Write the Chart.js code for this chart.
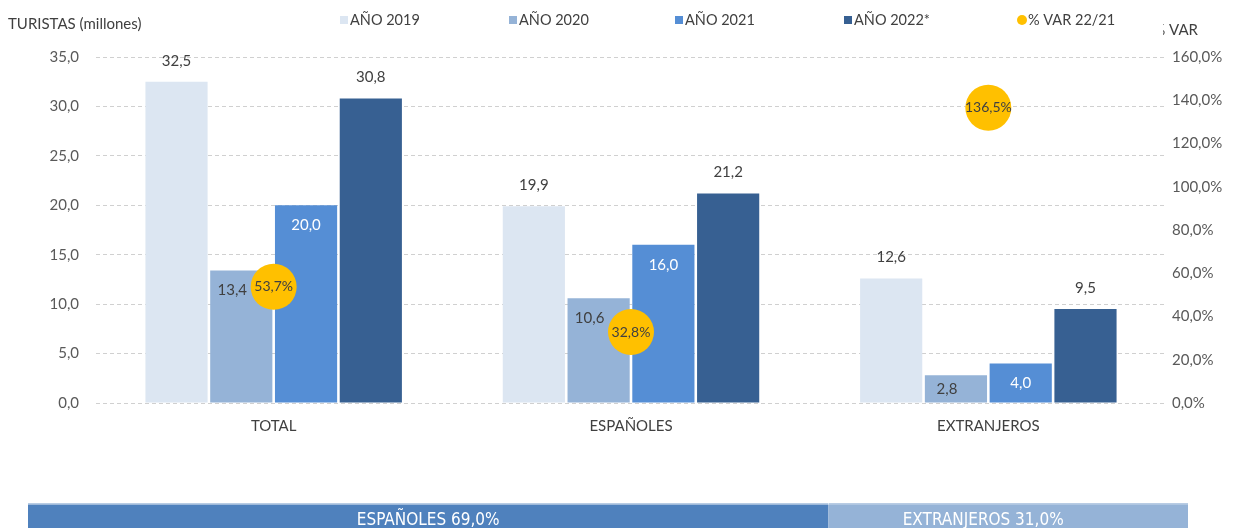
<!DOCTYPE html>
<html>
<head>
<meta charset="utf-8">
<script src="https://cdn.jsdelivr.net/npm/chart.js@4.4.1/dist/chart.umd.min.js"></script>
<style>
  html, body { margin: 0; padding: 0; background: #fff; overflow: hidden; }
  #main { position: absolute; left: 0; top: 0; }
  #shareWrap { position: absolute; left: 0; top: 503px; width: 1234px; height: 34px; }
</style>
</head>
<body>
<canvas id="main" width="1234" height="450"></canvas>
<div id="shareWrap"><canvas id="share" width="1234" height="34"></canvas></div>
<script>
// data
const categories = ['TOTAL', 'ESPAÑOLES', 'EXTRANJEROS'];
const yearLabels = ['AÑO 2019', 'AÑO 2020', 'AÑO 2021', 'AÑO 2022*'];
const tur2019 = [32.5, 19.9, 12.6];
const tur2020 = [13.4, 10.6, 2.8];
const tur2021 = [20.0, 16.0, 4.0];
const tur2022 = [30.8, 21.2, 9.5];
const varLabel = '% VAR 22/21';
const var2221 = [53.7, 32.8, 136.5];
const leftTicks = [0, 5, 10, 15, 20, 25, 30, 35];
const rightTicks = [0, 20, 40, 60, 80, 100, 120, 140, 160];
const shareLabels = ['ESPAÑOLES', 'EXTRANJEROS'];
const shareValues = [69.0, 31.0];

const FONT = 'Lato, "Noto Sans", sans-serif';
const barColors = ['#DCE6F2', '#95B3D7', '#558ED5', '#376092'];
const labelPos = ['above', 'inside', 'inside', 'above'];
const labelColor = ['#404040', '#404040', '#ffffff', '#404040'];
const labelShift = [0, -9, 0, 0];
const legendStarts = [340, 509, 675, 844, 1018];

function fmt(v) { return v.toFixed(1).replace('.', ','); }

var barSeries = [tur2019, tur2020, tur2021, tur2022];
var datasets = [];
datasets.push({
    type: 'line',
    label: varLabel,
    data: var2221,
    yAxisID: 'y2',
    showLine: false,
    pointRadius: 23,
    pointHoverRadius: 23,
    pointBackgroundColor: '#FFC000',
    pointBorderWidth: 0,
    backgroundColor: '#FFC000',
    order: 0
});
for (var i = 0; i < barSeries.length; i++) {
    datasets.push({
        type: 'bar',
        label: yearLabels[i],
        data: barSeries[i],
        yAxisID: 'y',
        backgroundColor: barColors[i],
        categoryPercentage: 0.725,
        barPercentage: 0.96,
        labelPos: labelPos[i],
        labelColor: labelColor[i],
        labelShift: labelShift[i],
        order: 1
    });
}

const valueLabels = {
    id: 'valueLabels',
    afterDatasetsDraw(chart) {
        const ctx = chart.ctx;
        ctx.save();
        ctx.textAlign = 'center';
        ctx.textBaseline = 'middle';
        chart.data.datasets.forEach(function (ds, di) {
            const meta = chart.getDatasetMeta(di);
            meta.data.forEach(function (el, j) {
                const v = ds.data[j];
                if (ds.type === 'line') {
                    ctx.font = '14px ' + FONT;
                    ctx.fillStyle = '#404040';
                    ctx.fillText(fmt(v) + '%', el.x, el.y);
                    return;
                }
                ctx.font = '15px ' + FONT;
                ctx.fillStyle = ds.labelColor;
                if (ds.labelPos === 'above') {
                    ctx.fillText(fmt(v), el.x, el.y - 21);
                } else {
                    var off = Math.min(20, (el.base - el.y) / 2);
                    ctx.fillText(fmt(v), el.x + ds.labelShift, el.y + off);
                }
            });
        });
        ctx.restore();
    }
};

const headerTexts = {
    id: 'headerTexts',
    afterDraw(chart) {
        const ctx = chart.ctx;
        ctx.save();
        ctx.font = '15px ' + FONT;
        ctx.textBaseline = 'middle';
        ctx.fillStyle = '#404040';
        ctx.textAlign = 'left';
        ctx.fillText('TURISTAS (millones)', 8, 24);
        // right axis title, clipped like the original
        ctx.save();
        ctx.beginPath();
        ctx.rect(1163, 0, 71, 50);
        ctx.clip();
        ctx.textAlign = 'right';
        ctx.fillText('% VAR', 1198, 30);
        ctx.restore();
        // legend
        ctx.font = '14.5px ' + FONT;
        var order = [1, 2, 3, 4, 0];
        order.forEach(function (di, k) {
            const ds = chart.data.datasets[di];
            var x = legendStarts[k];
            ctx.fillStyle = ds.backgroundColor;
            if (ds.type === 'line') {
                ctx.beginPath();
                ctx.arc(x + 4, 20, 5, 0, Math.PI * 2);
                ctx.fill();
            } else {
                ctx.fillRect(x, 16, 8, 8);
            }
            ctx.fillStyle = '#404040';
            ctx.textAlign = 'left';
            ctx.fillText(ds.label, x + 10, 20);
        });
        ctx.restore();
    }
};

new Chart(document.getElementById('main'), {
    data: { labels: categories, datasets: datasets },
    options: {
        responsive: false,
        animation: false,
        layout: { padding: { top: 57, left: 0, right: 0, bottom: 0 } },
        plugins: {
            legend: { display: false },
            tooltip: { enabled: false }
        },
        scales: {
            x: {
                grid: { display: false },
                border: { display: false },
                ticks: { color: '#404040', font: { family: FONT, size: 15 }, padding: 6 },
                afterFit: function (s) { s.height = 47; }
            },
            y: {
                position: 'left',
                min: 0, max: 35,
                afterBuildTicks: function (s) { s.ticks = leftTicks.map(function (v) { return { value: v }; }); },
                grid: { color: '#D0D0D0', drawTicks: false, lineWidth: 1 },
                border: { display: true, color: 'rgba(0,0,0,0)', dash: [4, 3] },
                ticks: { color: '#595959', font: { family: FONT, size: 15 }, padding: 16,
                    callback: function (v) { return fmt(v); } },
                afterFit: function (s) { s.width = 95; }
            },
            y2: {
                position: 'right',
                min: 0, max: 160,
                afterBuildTicks: function (s) { s.ticks = rightTicks.map(function (v) { return { value: v }; }); },
                grid: { display: false, drawTicks: false },
                border: { display: false },
                ticks: { color: '#595959', font: { family: FONT, size: 15 }, padding: 5,
                    callback: function (v) { return fmt(v) + '%'; } },
                afterFit: function (s) { s.width = 67; }
            }
        }
    },
    plugins: [valueLabels, headerTexts]
});

// bottom share bar
const shareColors = ['#4F81BD', '#95B3D7'];
const shareShift = [0, -25];
const shareText = {
    id: 'shareText',
    afterDatasetsDraw(chart) {
        const ctx = chart.ctx;
        ctx.save();
        ctx.font = '17px "Liberation Sans Narrow", "DejaVu Sans Condensed", sans-serif';
        ctx.fillStyle = '#ffffff';
        ctx.textAlign = 'center';
        ctx.textBaseline = 'middle';
        chart.data.datasets.forEach(function (ds, di) {
            const el = chart.getDatasetMeta(di).data[0];
            ctx.fillText(ds.label + ' ' + fmt(ds.data[0]) + '%', (el.x + el.base) / 2 + shareShift[di], el.y + 1);
        });
        ctx.restore();
    }
};
new Chart(document.getElementById('share'), {
    type: 'bar',
    data: {
        labels: [''],
        datasets: shareLabels.map(function (l, i) {
            return {
                label: l,
                data: [shareValues[i]],
                backgroundColor: shareColors[i],
                borderColor: '#B8CCE4',
                borderWidth: { top: 2, bottom: 0, left: 0, right: 0 },
                borderSkipped: false,
                categoryPercentage: 1,
                barPercentage: 1
            };
        })
    },
    options: {
        indexAxis: 'y',
        responsive: false,
        animation: false,
        layout: { padding: { left: 28, right: 46, top: 0, bottom: 0 } },
        plugins: { legend: { display: false }, tooltip: { enabled: false } },
        scales: {
            x: { stacked: true, min: 0, max: 100, display: false },
            y: { stacked: true, display: false }
        }
    },
    plugins: [shareText]
});
</script>
</body>
</html>
